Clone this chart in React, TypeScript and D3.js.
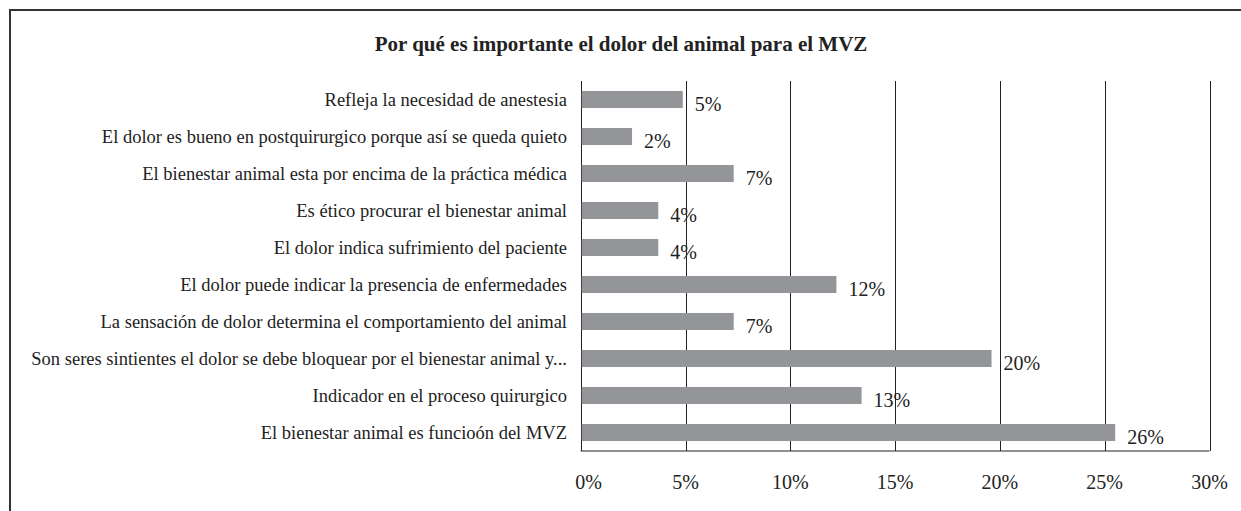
import React from "react";
import * as d3 from "d3";

const title = "Por qué es importante el dolor del animal para el MVZ";
const categories = [
  "Refleja la necesidad de anestesia",
  "El dolor es bueno en postquirurgico porque así se queda quieto",
  "El bienestar animal esta por encima de la práctica médica",
  "Es ético procurar el bienestar animal",
  "El dolor indica sufrimiento del paciente",
  "El dolor puede indicar la presencia de enfermedades",
  "La sensación de dolor determina el comportamiento del animal",
  "Son seres sintientes el dolor se debe bloquear por el bienestar animal y...",
  "Indicador en el proceso quirurgico",
  "El bienestar animal es funcioón del MVZ",
];
const values = [4.87, 2.45, 7.3, 3.7, 3.7, 12.2, 7.3, 19.6, 13.4, 25.5];
const valueLabels = ["5%", "2%", "7%", "4%", "4%", "12%", "7%", "20%", "13%", "26%"];
const ticks = [0, 5, 10, 15, 20, 25, 30];

const W = 1241;
const H = 511;
const FONT = "'Liberation Serif', 'Times New Roman', serif";

export default function App() {
  const x = d3.scaleLinear().domain([0, 30]).range([580.7, 1209.5]);
  const y = d3
    .scaleBand<string>()
    .domain(categories)
    .range([81, 451])
    .paddingInner(0.54)
    .paddingOuter(0.27);

  return (
    <div style={{ position: "absolute", left: 0, top: 0 }}>
      <svg width={W} height={H} style={{ display: "block" }}>
        <rect x={0} y={0} width={W} height={H} fill="#fff" />
        <rect x={10} y={10} width={W} height={H} fill="none" stroke="#333" strokeWidth={2} />
        <text
          x={621}
          y={44}
          dy="0.35em"
          textAnchor="middle"
          fontFamily={FONT}
          fontWeight="bold"
          fontSize={21}
          fill="#222"
        >
          {title}
        </text>
        {ticks.map((t) => (
          <line
            key={"g" + t}
            x1={Math.round(x(t)) + 0.5}
            x2={Math.round(x(t)) + 0.5}
            y1={81}
            y2={451}
            stroke="#222"
            strokeWidth={1}
          />
        ))}
        <line x1={x(0)} x2={x(30)} y1={451} y2={451} stroke="#222" strokeWidth={1.2} />
        {categories.map((c, i) => {
          const yy = y(c)!;
          const bw = y.bandwidth();
          return (
            <g key={c}>
              <rect
                x={x(0) + 1}
                y={yy}
                width={x(values[i]) - x(0) - 1}
                height={bw}
                fill="#939598"
              />
              <text
                x={567}
                y={yy + bw / 2}
                dy="0.35em"
                textAnchor="end"
                fontFamily={FONT}
                fontSize={18.5}
                fill="#222"
              >
                {c}
              </text>
              <text
                x={x(values[i]) + 12}
                y={yy + bw / 2 + 4}
                dy="0.35em"
                textAnchor="start"
                fontFamily={FONT}
                fontSize={20}
                fill="#222"
              >
                {valueLabels[i]}
              </text>
            </g>
          );
        })}
        {ticks.map((t, i) => (
          <text
            key={"t" + t}
            x={x(t) + (i === 0 ? 8 : 0)}
            y={482}
            dy="0.35em"
            textAnchor="middle"
            fontFamily={FONT}
            fontSize={20}
            fill="#222"
          >
            {t + "%"}
          </text>
        ))}
      </svg>
    </div>
  );
}
